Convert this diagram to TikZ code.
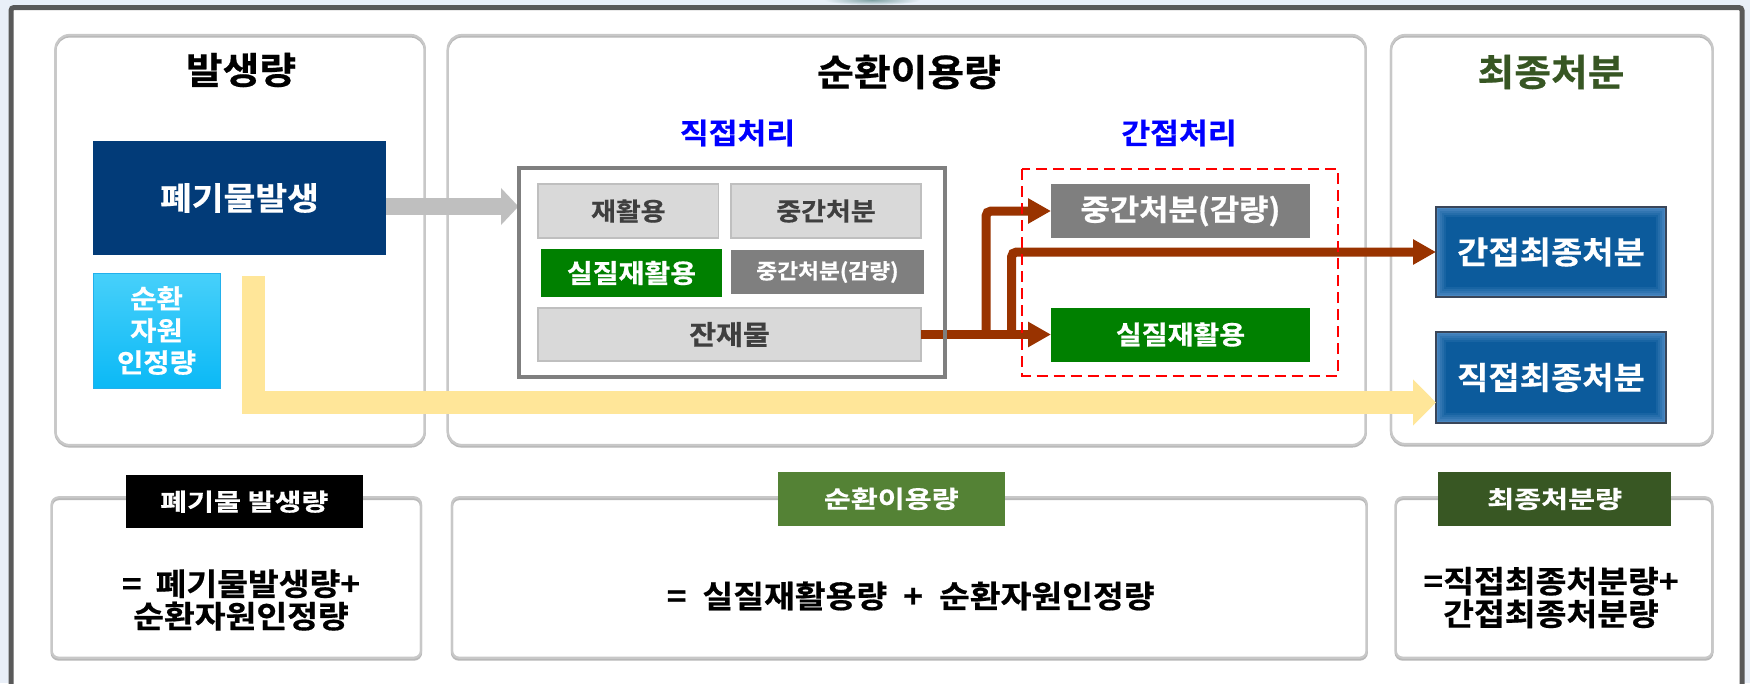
\documentclass[tikz,border=0pt]{standalone}
\usepackage{fontspec}
\setmainfont{Noto Sans CJK KR}[BoldFont={Noto Sans CJK KR Bold}, BoldFeatures={FakeStretch=1.08, FakeBold=0.6}]
\newfontfamily\labfont{Noto Sans CJK KR Bold}[FakeStretch=1.22, FakeBold=0.6]
\usetikzlibrary{arrows.meta,calc}
\definecolor{bgc}{HTML}{E9EFF8}
\definecolor{framec}{HTML}{595959}
\definecolor{panelc}{HTML}{C8C8C8}
\definecolor{shadowc}{HTML}{B8B8B8}
\definecolor{navy}{HTML}{023B78}
\definecolor{cyanT}{HTML}{47D0FA}
\definecolor{cyanB}{HTML}{0BB9F6}
\definecolor{cyanD}{HTML}{22B0EC}
\definecolor{grayarr}{HTML}{BFBFBF}
\definecolor{yel}{HTML}{FFE699}
\definecolor{brn}{HTML}{993300}
\definecolor{lgray}{HTML}{D9D9D9}
\definecolor{lgrayD}{HTML}{BFBFBF}
\definecolor{dtext}{HTML}{3F3F3F}
\definecolor{mgray}{HTML}{7F7F7F}
\definecolor{grn}{HTML}{008000}
\definecolor{pblue}{HTML}{0000FF}
\definecolor{olive}{HTML}{375623}
\definecolor{labgreen}{HTML}{548235}
\definecolor{labolive}{HTML}{385723}
\definecolor{glowC}{HTML}{0C5B9C}
\definecolor{glowE}{HTML}{4A87C0}
\definecolor{glowB}{HTML}{3A4659}
\definecolor{teal}{HTML}{7FA2A4}
\newcommand\fsz[2]{\fontsize{#1}{#2}\selectfont}
\begin{document}
\begin{tikzpicture}[x=1pt,y=-1pt,
  every node/.style={inner sep=0pt, outer sep=0pt},
  panel/.style={draw=panelc, line width=2.2pt, rounded corners=14pt},
  panelshadow/.style={draw=shadowc, line width=2.2pt, rounded corners=14pt},
  lowbox/.style={draw=panelc, line width=2.2pt, rounded corners=7pt},
  lowshadow/.style={draw=shadowc, line width=2.4pt, rounded corners=7pt},
  title/.style={font=\bfseries\fsz{37pt}{40pt}},
  subtitle/.style={font=\bfseries\fsz{29pt}{32pt}, text=pblue},
  lightbox/.style={fill=lgray, draw=lgrayD, line width=1.5pt, text=dtext},
  greenbox/.style={fill=grn, text=white},
  graybox/.style={fill=mgray, text=white},
  glowbox/.style={draw=glowB, line width=2pt, fill=glowC, text=white,
    font=\bfseries\fsz{31.5pt}{34pt},
    path picture={
      \foreach \i in {0,...,5}{
        \pgfmathtruncatemacro\m{100-\i*20}
        \fill[glowE!\m!glowC] ($(path picture bounding box.south west)+(\i*2pt,\i*2pt)$)
          rectangle ($(path picture bounding box.north east)-(\i*2pt,\i*2pt)$);
      }}},
  label/.style={text=white, font=\labfont\fsz{24pt}{26pt}},
  formula/.style={align=center, font=\bfseries\fsz{31pt}{32.5pt}},
  brownarrow/.style={draw=brn, line width=9pt, -{Triangle[length=23pt,width=24pt]}},
]
\useasboundingbox (0,0) rectangle (1750,683);
\fill[bgc] (0,0) rectangle (1750,683);
\begin{scope}
  \clip (820,0) rectangle (925,5);
  \shade[inner color=teal, outer color=bgc] (872,0) ellipse [x radius=48, y radius=5];
\end{scope}
\draw[line width=5pt, draw=framec, fill=white, rounded corners=3pt] (11,7.5) rectangle (1742,720);

% top panels
\draw[panelshadow] (55.5,36.5) rectangle (424.8,446.5);
\draw[panel] (55.5,35) rectangle (424.8,445);
\draw[panelshadow] (447.8,36.5) rectangle (1365.8,446.5);
\draw[panel] (447.8,35) rectangle (1365.8,445);
\draw[panelshadow] (1391,36.5) rectangle (1712.6,445.5);
\draw[panel] (1391,35) rectangle (1712.6,444);

% bottom boxes
\draw[lowshadow] (51.7,499) rectangle (421,659.5);
\draw[lowbox] (51.7,497.3) rectangle (421,657.7);
\draw[lowshadow] (452,499) rectangle (1366.7,659.5);
\draw[lowbox] (452,497.3) rectangle (1366.7,657.7);
\draw[lowshadow] (1395.7,499) rectangle (1712.3,659.5);
\draw[lowbox] (1395.7,497.3) rectangle (1712.3,657.7);

% titles
\node[title] (t1) at (241,70) {발생량};
\node[title] (t2) at (909,72) {순환이용량};
\node[title, text=olive] (t3) at (1551,72) {최종처분};
\node[subtitle] (t4) at (737.5,133) {직접처리};
\node[subtitle] (t5) at (1179,133) {간접처리};

% generation
\node[fill=navy, text=white, minimum width=293pt, minimum height=114pt,
      font=\bfseries\fsz{32pt}{35pt}] (gen) at (239.5,198) {폐기물발생};
\node[top color=cyanT, bottom color=cyanB, draw=cyanD, line width=1pt, text=white,
      minimum width=127pt, minimum height=115pt, align=center,
      font=\bfseries\fsz{26.5pt}{32pt}] (rec) at (156.5,330.5) {순환\\자원\\인정량};

% direct treatment boxes
\node[lightbox, minimum width=180.6pt, minimum height=54pt, font=\bfseries\fsz{25pt}{28pt}] (b1) at (628.3,211) {재활용};
\node[lightbox, minimum width=190pt, minimum height=54pt, font=\bfseries\fsz{25pt}{28pt}] (b2) at (826,211) {중간처분};
\node[greenbox, minimum width=181pt, minimum height=48pt, font=\bfseries\fsz{26pt}{28pt}] (b3) at (631.5,273) {실질재활용};
\node[graybox, minimum width=193pt, minimum height=44pt, font=\bfseries\fsz{21pt}{24pt}] (b4) at (827.5,272) {중간처분(감량)};
\node[lightbox, minimum width=383pt, minimum height=53pt, font=\bfseries\fsz{27pt}{30pt}] (b5) at (729.5,334.5) {잔재물};

% indirect treatment boxes
\node[graybox, minimum width=259pt, minimum height=54pt, font=\bfseries\fsz{29.5pt}{32pt}] (ind1) at (1180.5,211) {중간처분(감량)};
\node[greenbox, minimum width=259pt, minimum height=54pt, font=\bfseries\fsz{26pt}{28pt}] (ind2) at (1180.5,334.5) {실질재활용};

% final disposal boxes
\node[glowbox, minimum width=230pt, minimum height=90pt] (fin1) at (1551,252) {간접최종처분};
\node[glowbox, minimum width=230pt, minimum height=91pt] (fin2) at (1551,377.5) {직접최종처분};

% frames (as nodes for anchors)
\node[minimum width=426.5pt, minimum height=209pt] (dframe) at (731.75,272.5) {};
\node[minimum width=315.7pt, minimum height=206.7pt] (rframe) at (1180.15,272.35) {};

% connectors
\draw[line width=17pt, draw=grayarr, -{Triangle[length=17.5pt,width=36pt]}]
  ($(gen.east)+(0,8.5)$) -- ($(dframe.west)+(0,-66)$);
\coordinate (ys) at (253.5,276);
\draw[line width=23pt, draw=yel, line join=miter, -{Triangle[length=23pt,width=45pt]}]
  (ys) |- ($(fin2.west)+(0,25)$);
\coordinate (j1) at (986,334.5);
\coordinate (j2) at (1011.5,334.5);
\draw[brownarrow] (b5.east) -- (ind2.west);
\draw[brownarrow, rounded corners=5pt] (j1) |- (ind1.west);
\draw[brownarrow, rounded corners=5pt] (j2) |- (fin1.west);

% frames drawn on top
\draw[draw=mgray, line width=4pt] (dframe.north west) rectangle (dframe.south east);
\draw[draw=red, line width=2pt, dash pattern=on 11pt off 6pt] (rframe.north west) rectangle (rframe.south east);

% bottom labels
\node[label, fill=black, minimum width=236.7pt, minimum height=53.3pt] (l1) at (244.35,501.65) {폐기물 발생량};
\node[label, fill=labgreen, minimum width=226.5pt, minimum height=53.7pt] (l2) at (891.25,498.85) {순환이용량};
\node[label, fill=labolive, minimum width=232.7pt, minimum height=53.4pt] (l3) at (1554.65,499) {최종처분량};

% formulas
\node[formula] (f1) at (241,600) {=\hspace{14pt}폐기물발생량+\\순환자원인정량};
\node[formula] (f2) at (910.7,596) {=\hspace{16pt}실질재활용량\hspace{16pt}+\hspace{16pt}순환자원인정량};
\node[formula] (f3) at (1551,597.5) {=직접최종처분량+\\간접최종처분량};
\end{tikzpicture}
\end{document}
